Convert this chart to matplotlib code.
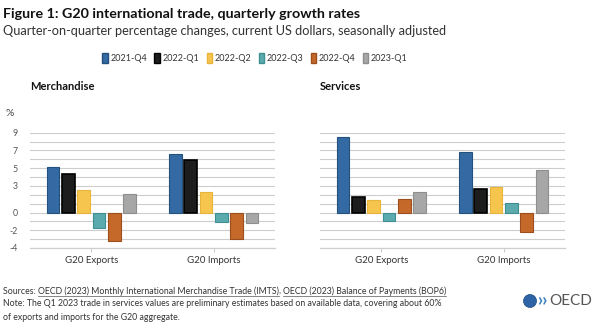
import numpy as np
import matplotlib
matplotlib.use("Agg")
import matplotlib.pyplot as plt
from matplotlib.patches import Patch, Ellipse

plt.rcParams["font.family"] = ["Lato", "DejaVu Sans"]

# ---- data -------------------------------------------------------------------
quarters = ["2021-Q4", "2022-Q1", "2022-Q2", "2022-Q3", "2022-Q4", "2023-Q1"]
flows = ["G20 Exports", "G20 Imports"]
merch_exports = [5.1, 4.3, 2.55, -1.7, -3.2, 2.1]
merch_imports = [6.6, 5.9, 2.3, -1.1, -3.0, -1.2]
serv_exports = [8.5, 1.8, 1.4, -0.9, 1.5, 2.3]
serv_imports = [6.8, 2.6, 2.9, 1.1, -2.2, 4.8]
y_ticks = [-4, -2, 0, 3, 5, 7, 9]

FILL = ["#346aa3", "#1d1d1d", "#f5c54e", "#5aaaae", "#c4692a", "#a7a7a7"]
EDGE = ["#24507e", "#000000", "#e8b43a", "#3f8e92", "#9c4f1c", "#8e8e8e"]
GRID = "#cdcdcd"
TXT = "#333333"

W, H = 600, 327
fig = plt.figure(figsize=(W / 100, H / 100), dpi=100)


def px(x, y):
    return x / W, 1 - y / H


def panel(left, title, exports, imports, show_y):
    top, bottom, width = 132.7, 248.0, 245
    ax = fig.add_axes([left / W, 1 - bottom / H, width / W, (bottom - top) / H])
    step, bw = 0.125, 0.103
    offs = (np.arange(len(quarters)) - (len(quarters) - 1) / 2) * step
    for g, vals in enumerate([exports, imports]):
        for i, v in enumerate(vals):
            ax.bar(g + offs[i], v, width=bw, color=FILL[i], edgecolor=EDGE[i],
                   linewidth=0.8 if i != 1 else 1.2, zorder=3)
    ax.set_xlim(-0.5, 1.5)
    ax.set_ylim(-4, 9)
    ax.set_yticks(range(-4, 10), minor=True)
    ax.grid(True, axis="y", which="both", color=GRID, lw=0.8, zorder=0)
    ax.set_axisbelow(True)
    for s in ["top", "right", "left"]:
        ax.spines[s].set_visible(False)
    ax.spines["bottom"].set_color("#cfcfcf")
    ax.spines["bottom"].set_linewidth(0.9)
    ax.set_xticks([0, 1])
    ax.set_xticklabels(flows, fontsize=7, color=TXT)
    ax.tick_params(axis="x", length=3, color="#cccccc", pad=3)
    ax.tick_params(axis="y", which="minor", length=0)
    ax.set_yticks(y_ticks)
    if show_y:
        ax.set_yticklabels([str(t) for t in y_ticks], fontsize=6.3, color="#555555")
        ax.tick_params(axis="y", length=0, pad=9)
    else:
        ax.set_yticklabels([])
        ax.tick_params(axis="y", length=0)
    fig.text(*px(left, 86), title, fontsize=8, fontweight="bold", color="#111111",
             ha="left", va="center")
    return ax


panel(30, "Merchandise", merch_exports, merch_imports, True)
panel(320, "Services", serv_exports, serv_imports, False)
fig.text(*px(5, 113), "%", fontsize=7.5, color="#444444", ha="left", va="center")

# ---- header -----------------------------------------------------------------
fig.text(*px(3, 14), "Figure 1: G20 international trade, quarterly growth rates",
         fontsize=10.3, fontweight="bold", color="#111111", ha="left", va="center")
fig.text(*px(3, 31), "Quarter-on-quarter percentage changes, current US dollars, seasonally adjusted",
         fontsize=9.2, color="#333333", ha="left", va="center")

handles = [Patch(facecolor=FILL[i], edgecolor=EDGE[i], label=q) for i, q in enumerate(quarters)]
fig.legend(handles=handles, loc="center", bbox_to_anchor=px(255, 58), ncol=6, frameon=False,
           fontsize=6.5, handlelength=0.6, handleheight=1.3, handletextpad=0.3, columnspacing=0.8,
           labelcolor="#333333")

# ---- footer -----------------------------------------------------------------
foot = dict(fontsize=6.3, color="#333333", ha="left", va="center")
x0 = 3
t = fig.text(*px(x0, 291), "Sources: ", **foot)
fig.canvas.draw()
r = fig.canvas.get_renderer()
x = x0 + t.get_window_extent(r).width
for seg in ["OECD (2023) Monthly International Merchandise Trade (IMTS)", ", ",
            "OECD (2023) Balance of Payments (BOP6)"]:
    s = fig.text(*px(x, 291), seg, **foot)
    w = s.get_window_extent(r).width
    if seg != ", ":
        fig.add_artist(plt.Line2D([x / W, (x + w) / W], [1 - 296 / H] * 2, color="#555555", lw=0.5))
    x += w
fig.text(*px(3, 304), "Note: The Q1 2023 trade in services values are preliminary estimates based on "
         "available data, covering about 60%", **foot)
fig.text(*px(3, 317), "of exports and imports for the G20 aggregate.", **foot)

# logo
lx, ly = px(530, 301)
fig.add_artist(Ellipse((lx, ly), 13 / W, 13 / H, transform=fig.transFigure, facecolor="#2e64a6",
                       edgecolor="#1f4a80", lw=0.5))
fig.text(*px(537, 300), "\u203a\u203a", fontsize=13, color="#3a7fc0", ha="left", va="center",
         fontweight="bold")
fig.text(*px(549, 301), "OECD", fontsize=11, color="#555555", ha="left", va="center")

fig.savefig("out.png", dpi=100)
